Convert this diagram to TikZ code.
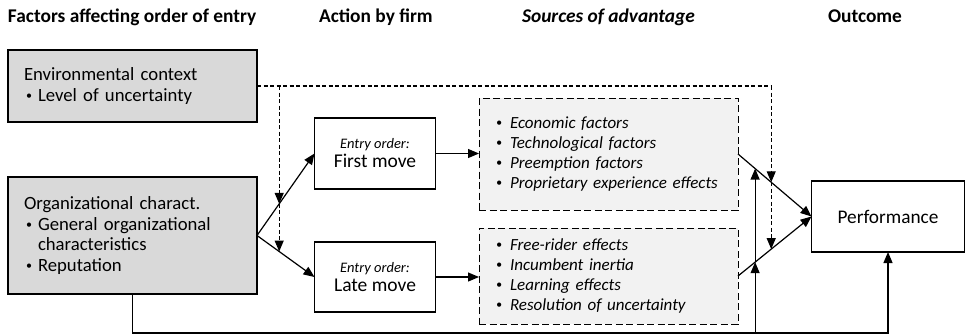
\documentclass[tikz,border=0pt]{standalone}
\usepackage{fontspec}
\setmainfont{Carlito}
\usetikzlibrary{arrows.meta,calc}
\definecolor{boxgray}{HTML}{D9D9D9}
\definecolor{srcgray}{HTML}{F2F2F2}
% bullet lines for the factor boxes and the source boxes
\newcommand\dotb{\raisebox{0.22ex}{\fontsize{12}{12}\selectfont\textbullet}}
\newcommand\fbul[1]{\hspace*{2pt}\makebox[12pt][l]{\dotb}#1}
\newcommand\fcont[1]{\hspace*{14pt}#1}
\newcommand\sbul[1]{\makebox[14pt][l]{\dotb}#1}
\begin{document}
\begin{tikzpicture}[x=1pt,y=-1pt,
  every node/.style={inner sep=0pt, outer sep=0pt},
  header/.style={anchor=base west, font=\fontsize{19.4}{20}\selectfont\bfseries},
  factor/.style={draw, line width=1.2pt, fill=boxgray, align=left,
    text width=217pt, inner xsep=16pt, font=\fontsize{18.7}{20.5}\selectfont},
  entrybox/.style={draw, line width=1.2pt, fill=white, align=center,
    minimum width=121pt, font=\fontsize{19.5}{19}\selectfont},
  srcbox/.style={draw, line width=1pt, dash pattern=on 7pt off 3.5pt, fill=srcgray,
    align=left, text width=225pt, inner xsep=17pt,
    font=\fontsize{17}{20}\selectfont\itshape},
  outbox/.style={draw, line width=1.2pt, fill=white, minimum width=153pt,
    minimum height=71pt, font=\fontsize{19.3}{20}\selectfont},
  conn/.style={line width=1.2pt},
  dconn/.style={line width=1.1pt, dash pattern=on 4pt off 2.5pt},
  tip/.style={-{Triangle[length=11pt,width=9pt]}}
]
\useasboundingbox (0,0) rectangle (966,335);

% column headings
\node[header] (h1) at (8,22) {Factors affecting order of entry};
\node[header] (h2) at (319,22) {Action by firm};
\node[header] (h3) at (522,22) {\itshape Sources of advantage};
\node[header] (h4) at (828,22) {Outcome};

% factor boxes
\node[factor, minimum height=72pt] (env) at (132.5,86)
  {Environmental context\\ \fbul{Level of uncertainty}};
\node[factor, minimum height=117pt] (org) at (132.5,235.5)
  {Organizational charact.\\ \fbul{General organizational}\\
   \fcont{characteristics}\\ \fbul{Reputation}};

% entry order boxes
\node[entrybox, minimum height=71pt] (first) at (375,153.5)
  {{\fontsize{14.5}{17}\selectfont\itshape Entry order:}\\ First move};
\node[entrybox, minimum height=70pt] (late) at (375,277)
  {{\fontsize{14.5}{17}\selectfont\itshape Entry order:}\\ Late move};

% sources of advantage
\node[srcbox, minimum height=112pt] (src1) at (608.5,154)
  {\sbul{Economic factors}\\ \sbul{Technological factors}\\
   \sbul{Preemption factors}\\ \sbul{Proprietary experience effects}};
\node[srcbox, minimum height=96pt] (src2) at (608.5,276)
  {\sbul{Free-rider effects}\\ \sbul{Incumbent inertia}\\
   \sbul{Learning effects}\\ \sbul{Resolution of uncertainty}};

% outcome
\node[outbox] (perf) at (888,216.5) {Performance};

% crossing points on the connectors
\coordinate (hL1) at ($(org.east)!0.386!(first.west)$);
\coordinate (hL2) at ($(org.east)!0.386!(late.west)$);
\coordinate (hR1) at ($(src1.east)!0.452!(perf.west)$);
\coordinate (hR2) at ($(src2.east)!0.452!(perf.west)$);
\coordinate (hS1) at ($(src1.east)!0.233!(perf.west)$);
\coordinate (hS2) at ($(src2.east)!0.233!(perf.west)$);
\coordinate (bL) at ($(org.south)+(0,39)$);

% main flow
\draw[conn,tip] (org.east) -- (first.west);
\draw[conn,tip] (org.east) -- (late.west);
\draw[conn,tip] (first.east) -- (src1.west |- first.east);
\draw[conn,tip] (late.east) -- (src2.west |- late.east);
\draw[conn,tip] (src1.east) -- (perf.west);
\draw[conn,tip] (src2.east) -- (perf.west);

% moderating effect of the environment
\draw[dconn] (env.east) -- (env.east -| hR1);
\draw[dconn,tip] (env.east -| hL1) -- (hL1);
\draw[dconn,tip] (hL1) -- (hL2);
\draw[dconn,tip] (env.east -| hR1) -- (hR1);
\draw[dconn,tip] (hR1) -- (hR2);

% direct and moderating effect of the organization
\draw[conn,tip] (org.south) -- (bL) -| (perf.south);
\draw[conn,tip] (hS2 |- bL) -- (hS2);
\draw[conn,tip] (hS2) -- (hS1);
\end{tikzpicture}
\end{document}
